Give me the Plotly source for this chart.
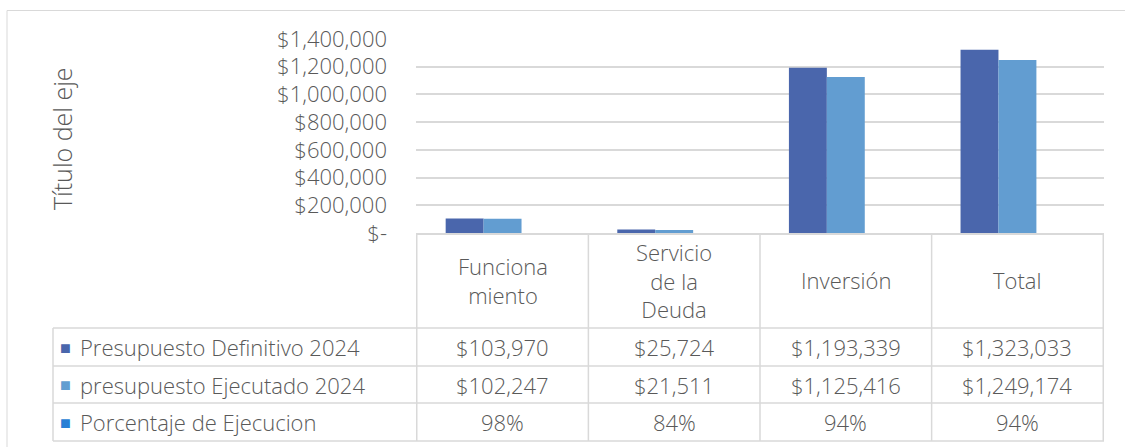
import plotly.graph_objects as go

# ---- data ----
categories = ["Funcionamiento", "Servicio de la Deuda", "Inversión", "Total"]
category_labels = ["Funciona<br>miento", "Servicio<br>de la<br>Deuda", "Inversión", "Total"]
series_names = ["Presupuesto Definitivo 2024", "presupuesto Ejecutado 2024", "Porcentaje de Ejecucion"]
presupuesto_definitivo = [103970, 25724, 1193339, 1323033]
presupuesto_ejecutado = [102247, 21511, 1125416, 1249174]
porcentaje_ejecucion = [0.98, 0.84, 0.94, 0.94]
y_tickvals = [0, 200000, 400000, 600000, 800000, 1000000, 1200000, 1400000]
y_ticktext = ["$-", "$200,000", "$400,000", "$600,000", "$800,000", "$1,000,000", "$1,200,000", "$1,400,000"]
axis_title = "Título del eje"

colors = ["#4A66AC", "#629DD1", "#297FD5"]
TEXT = "#595959"
GRID = "#D9D9D9"
FONT = "Open Sans"
FW = 300
FS = 22

W, H = 1125, 447
ML, MR, MT, MB = 416, 21, 39, 214
PW, PH = W - ML - MR, H - MT - MB


def px_x(px):
    return (px - ML) / PW


def px_y(py):
    return (H - MB - py) / PH


def font(size=FS, color=TEXT):
    return dict(family=FONT, size=size, color=color, weight=FW)


fig = go.Figure()
for name, vals, col in zip(series_names, [presupuesto_definitivo, presupuesto_ejecutado, porcentaje_ejecucion], colors):
    fig.add_trace(go.Bar(x=categories, y=vals, name=name, marker=dict(color=col, line=dict(width=0)),
                         showlegend=False))

shapes = []
# chart area border
shapes.append(dict(type="rect", xref="paper", yref="paper", x0=px_x(7), x1=px_x(1135), y0=px_y(460), y1=px_y(10.5),
                   line=dict(color=GRID, width=1), layer="below"))
# vertical table lines at category boundaries
for i in range(len(categories) + 1):
    shapes.append(dict(type="line", xref="x", yref="paper", x0=i - 0.5, x1=i - 0.5,
                       y0=px_y(441), y1=px_y(233), line=dict(color=GRID, width=1.5)))
# left border of legend column
shapes.append(dict(type="line", xref="paper", yref="paper", x0=px_x(53), x1=px_x(53),
                   y0=px_y(441), y1=px_y(328), line=dict(color=GRID, width=1.5)))
# horizontal row lines
row_lines = [328, 366, 403, 441]
for ry in row_lines:
    shapes.append(dict(type="line", xref="paper", yref="paper", x0=px_x(53), x1=1,
                       y0=px_y(ry), y1=px_y(ry), line=dict(color=GRID, width=1.5)))

annotations = []
# category header labels
for i, lab in enumerate(category_labels):
    annotations.append(dict(x=i, xref="x", y=px_y(280), yref="paper", text=lab, showarrow=False,
                            font=font(), align="center", xanchor="center", yanchor="middle"))
# rows
row_centers = [347, 384.5, 422]
row_texts = [
    [f"${v:,.0f}" for v in presupuesto_definitivo],
    [f"${v:,.0f}" for v in presupuesto_ejecutado],
    [f"{v * 100:.0f}%" for v in porcentaje_ejecucion],
]
for r, (name, col, cy, texts) in enumerate(zip(series_names, colors, row_centers, row_texts)):
    annotations.append(dict(x=px_x(58), xref="paper", y=px_y(cy), yref="paper", text="■",
                            showarrow=False, font=dict(family="DejaVu Sans", size=18, color=col),
                            xanchor="left", yanchor="middle"))
    annotations.append(dict(x=px_x(78), xref="paper", y=px_y(cy), yref="paper", text=name,
                            showarrow=False, font=font(), xanchor="left", yanchor="middle"))
    for i, t in enumerate(texts):
        annotations.append(dict(x=i, xref="x", y=px_y(cy), yref="paper", text=t, showarrow=False,
                                font=font(), xanchor="center", yanchor="middle"))
# axis title
annotations.append(dict(x=px_x(62), xref="paper", y=px_y(139), yref="paper", text=axis_title,
                        textangle=-90, showarrow=False, font=font(25),
                        xanchor="center", yanchor="middle"))

fig.update_layout(
    width=W, height=H,
    margin=dict(l=ML, r=MR, t=MT, b=MB),
    paper_bgcolor="white", plot_bgcolor="white",
    barmode="group", bargap=0.337, bargroupgap=0,
    font=font(),
    xaxis=dict(showticklabels=False, showgrid=False, zeroline=False, showline=True,
               linecolor=GRID, linewidth=1.5, ticks=""),
    yaxis=dict(range=[0, 1400000], tickvals=y_tickvals, ticktext=y_ticktext, showgrid=True,
               gridcolor=GRID, gridwidth=1.5, zeroline=False, showline=False,
               ticklabelstandoff=28, tickfont=font()),
    shapes=shapes, annotations=annotations,
)

fig.write_html("out.html", config={"displayModeBar": False},
               post_script="document.body.style.margin='0';document.body.style.overflow='hidden';")
